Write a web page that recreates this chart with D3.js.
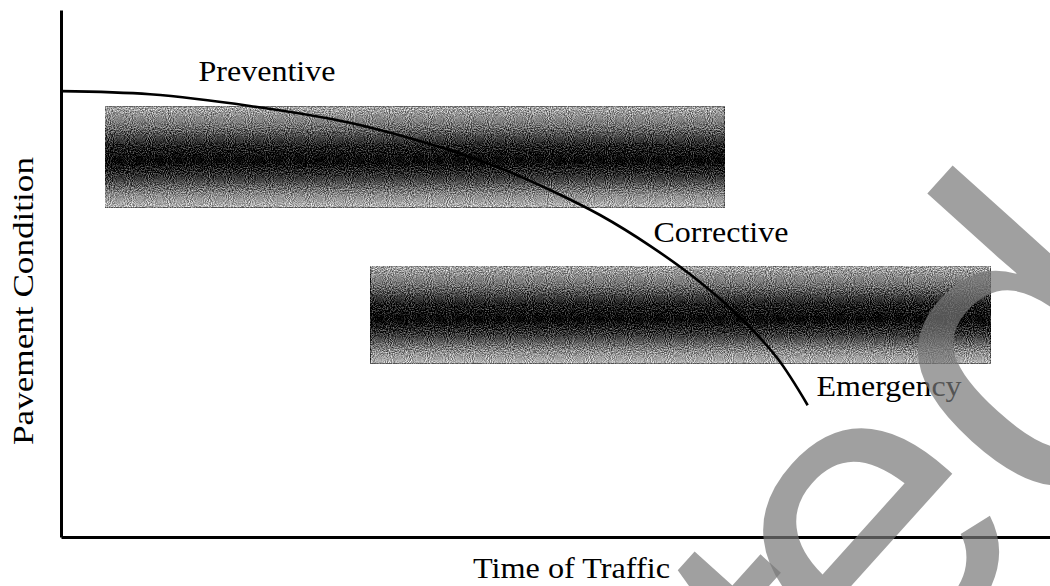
<!DOCTYPE html>
<html lang="en">
<head>
    <meta charset="UTF-8">
    <title>Pavement Condition</title>
    <style>
        body { margin: 0; background: #fff; }
        .lbl { font-family: "Liberation Serif", "Times New Roman", serif; fill: #000; }
    </style>
</head>
<body>
<script src="https://cdn.jsdelivr.net/npm/d3@7"></script>
<script>
    // stages drawn as labels along the curve
    var stages = ["Preventive", "Corrective", "Emergency"];
    var stageX = [13.9, 59.9, 76.4];
    var stageY = [86.5, 56.0, 26.8];

    // deterioration curve (time of traffic vs pavement condition)
    var curveT = [0, 9.0, 19.1, 29.2, 39.3, 44.4, 49.4, 54.5, 59.6, 64.6, 68.7, 72.4, 75.5];
    var curveC = [84.6, 84.0, 81.8, 78.6, 73.4, 70.0, 65.9, 61.1, 55.2, 48.4, 41.6, 34.0, 25.0];

    // treatment windows (shaded bands)
    var bandStart = [4.45, 31.3];
    var bandEnd = [67.1, 94.0];
    var bandHigh = [81.6, 51.4];
    var bandLow = [62.6, 33.0];

    var width = 1050, height = 586;
    var svg = d3.select("body").append("svg")
        .attr("width", width)
        .attr("height", height);

    var x = d3.scaleLinear().domain([0, 100]).range([61, 1050]);
    var y = d3.scaleLinear().domain([0, 100]).range([537, 10]);

    /* band gradient + grain */
    var defs = svg.append("defs");
    var grad = defs.append("linearGradient")
        .attr("id", "bandGrad")
        .attr("x1", 0).attr("y1", 0).attr("x2", 0).attr("y2", 1);
    [[0, "#a8a8a8"], [0.2, "#6e6e6e"], [0.4, "#1c1c1c"], [0.55, "#050505"], [0.72, "#3e3e3e"], [0.88, "#8c8c8c"], [1, "#b2b2b2"]]
        .forEach(function (s) {
            grad.append("stop").attr("offset", s[0]).attr("stop-color", s[1]);
        });

    var grain = defs.append("filter").attr("id", "grain")
        .attr("x", 0).attr("y", 0).attr("width", 1).attr("height", 1)
        .attr("color-interpolation-filters", "sRGB");
    grain.append("feTurbulence")
        .attr("type", "fractalNoise").attr("baseFrequency", 0.95)
        .attr("numOctaves", 1).attr("seed", 3).attr("result", "noise");
    grain.append("feColorMatrix")
        .attr("in", "noise").attr("type", "matrix")
        .attr("values", "1 0 0 0 0  1 0 0 0 0  1 0 0 0 0  0 0 0 0 1")
        .attr("result", "grey");
    grain.append("feComposite")
        .attr("in", "SourceGraphic").attr("in2", "grey").attr("operator", "arithmetic")
        .attr("k1", 0).attr("k2", 1).attr("k3", 1.2).attr("k4", -0.6);

    svg.selectAll(".band")
        .data(bandStart)
        .enter()
        .append("rect")
        .attr("class", "band")
        .attr("x", function (d, i) { return x(bandStart[i]); })
        .attr("y", function (d, i) { return y(bandHigh[i]); })
        .attr("width", function (d, i) { return x(bandEnd[i]) - x(bandStart[i]); })
        .attr("height", function (d, i) { return y(bandLow[i]) - y(bandHigh[i]); })
        .attr("fill", "url(#bandGrad)")
        .attr("filter", "url(#grain)");

    /* axes */
    svg.append("g")
        .attr("transform", "translate(" + x(0) + ",0)")
        .call(d3.axisLeft(y).ticks(0).tickSize(0).tickSizeOuter(0))
        .call(function (g) { g.select(".domain").attr("stroke", "#000").attr("stroke-width", 3); });

    svg.append("g")
        .attr("transform", "translate(0," + y(0) + ")")
        .call(d3.axisBottom(x).ticks(0).tickSize(0).tickSizeOuter(0))
        .call(function (g) { g.select(".domain").attr("stroke", "#000").attr("stroke-width", 3); });

    /* curve */
    var line = d3.line()
        .x(function (d, i) { return x(curveT[i]); })
        .y(function (d, i) { return y(curveC[i]); })
        .curve(d3.curveCatmullRom);

    svg.append("path")
        .datum(curveT)
        .attr("d", line)
        .attr("fill", "none")
        .attr("stroke", "#000")
        .attr("stroke-width", 2.6);

    /* stage labels */
    var labelLen = [137, 135, 145];
    svg.selectAll(".stage")
        .data(stages)
        .enter()
        .append("text")
        .attr("class", "lbl stage")
        .attr("x", function (d, i) { return x(stageX[i]); })
        .attr("y", function (d, i) { return y(stageY[i]); })
        .attr("font-size", "29px")
        .attr("textLength", function (d, i) { return labelLen[i]; })
        .attr("lengthAdjust", "spacingAndGlyphs")
        .text(function (d) { return d; });

    /* axis titles */
    svg.append("text")
        .attr("class", "lbl")
        .attr("x", 473)
        .attr("y", 578)
        .attr("font-size", "29px")
        .attr("textLength", 197)
        .attr("lengthAdjust", "spacingAndGlyphs")
        .text("Time of Traffic");

    svg.append("text")
        .attr("class", "lbl")
        .attr("transform", "translate(33,301) rotate(-90)")
        .attr("text-anchor", "middle")
        .attr("font-size", "29px")
        .attr("textLength", 288)
        .attr("lengthAdjust", "spacingAndGlyphs")
        .text("Pavement Condition");

    /* watermark */
    var wm = svg.append("text")
        .attr("transform", "translate(854,790) rotate(-48)")
        .attr("font-family", "Liberation Sans, Arial, sans-serif")
        .attr("font-size", "430px")
        .attr("fill", "#787878")
        .attr("fill-opacity", 0.7);
    wm.append("tspan").text("t");
    wm.append("tspan").attr("dx", -38.7).attr("dy", -33.0).text("ed");
</script>
</body>
</html>
